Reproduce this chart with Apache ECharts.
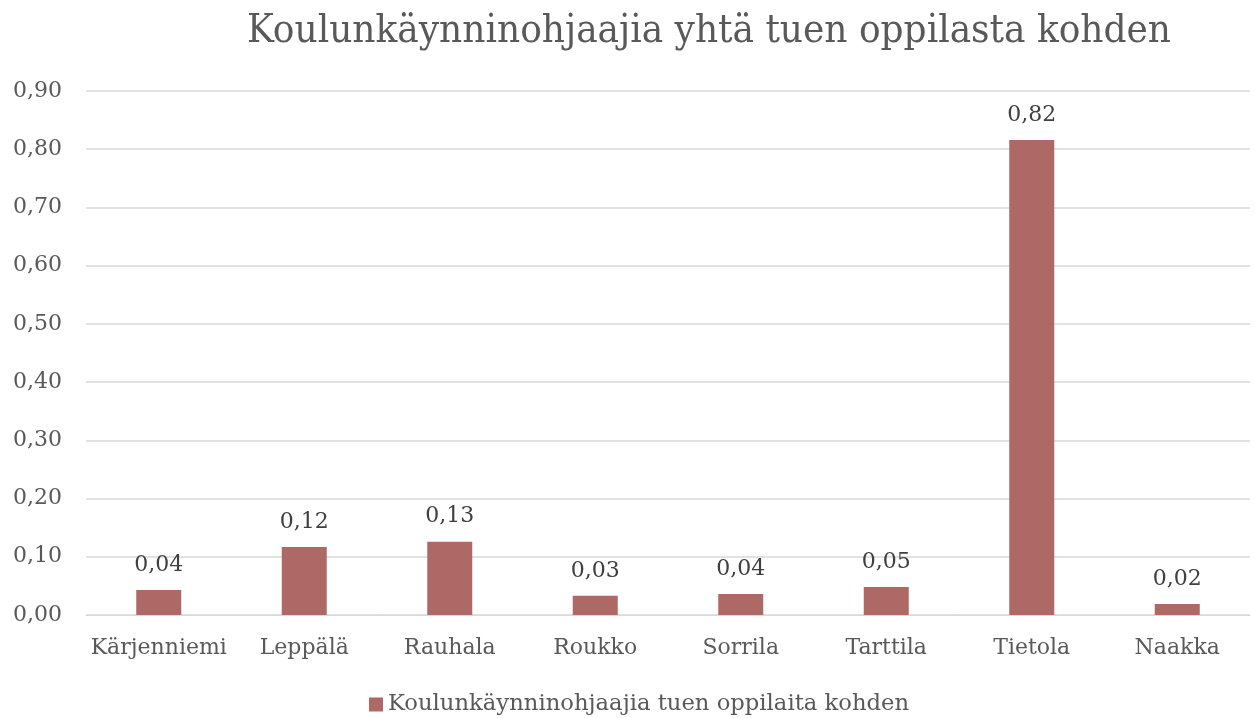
<!DOCTYPE html>
<html><head><meta charset="utf-8">
<script src="https://cdn.jsdelivr.net/npm/echarts@6/dist/echarts.min.js"></script>
<style>html,body{margin:0;padding:0;background:#fff}#c{width:1255px;height:718px}</style>
</head><body><div id="c"></div>
<script>
const titleText = 'Koulunkäynninohjaajia yhtä tuen oppilasta kohden';
const seriesName = 'Koulunkäynninohjaajia tuen oppilaita kohden';
const categories = ['Kärjenniemi','Leppälä','Rauhala','Roukko','Sorrila','Tarttila','Tietola','Naakka'];
const values = [0.043, 0.117, 0.126, 0.033, 0.036, 0.048, 0.816, 0.019];
const fmt = v => v.toFixed(2).replace('.', ',');
const FONT = '"DejaVu Serif", serif';
const chart = echarts.init(document.getElementById('c'));
chart.setOption({
  animation: false,
  title: { text: titleText, left: 704, textAlign: 'center', top: 7,
    textStyle: { fontFamily: '"DejaVu Serif Condensed", "DejaVu Serif", serif', fontSize: 40, fontWeight: 'normal', color: '#595959' } },
  grid: { left: 86, right: 5, top: 91, bottom: 103 },
  legend: { bottom: -3, left: 364, itemWidth: 14, itemHeight: 14, itemGap: 10,
    textStyle: { fontFamily: FONT, fontSize: 22.7, color: '#595959' },
    data: [{ name: seriesName, icon: 'rect' }] },
  xAxis: { type: 'category', data: categories,
    axisLine: { lineStyle: { color: '#d9d9d9', width: 1 } }, axisTick: { show: false },
    axisLabel: { interval: 0, fontFamily: FONT, fontSize: 22, color: '#595959', margin: 22 } },
  yAxis: { type: 'value', min: 0, max: 0.9, interval: 0.1,
    axisLine: { show: false }, axisTick: { show: false },
    splitLine: { lineStyle: { color: '#d9d9d9', width: 1.5 } },
    axisLabel: { fontFamily: FONT, fontSize: 22, color: '#595959', margin: 24, formatter: v => fmt(v) } },
  series: [{ type: 'bar', name: seriesName, data: values, barWidth: 45,
    itemStyle: { color: '#ae6866' },
    label: { show: true, position: 'top', distance: 14, fontFamily: FONT, fontSize: 22, color: '#404040', formatter: p => fmt(p.value) } }]
});
</script></body></html>
